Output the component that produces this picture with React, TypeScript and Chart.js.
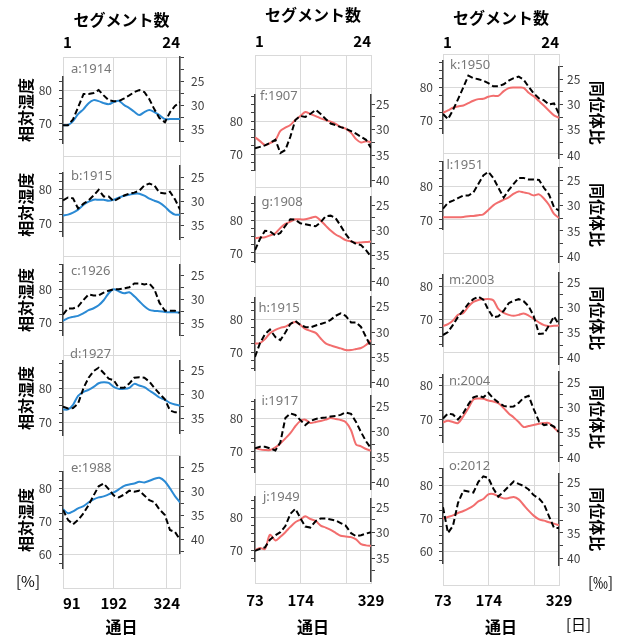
import React, { useEffect, useRef } from 'react';
import { Chart, registerables } from 'chart.js';

Chart.register(...registerables);

const FONT = '"Noto Sans CJK JP", "Noto Sans", sans-serif';

// ---------- data ----------
// 通日 (day of year) of the 24 segments
const segDaysLeft = [91, 101, 111, 121, 132, 142, 152, 162, 172, 182, 192, 202, 213, 223, 233, 243, 253, 263, 273, 283, 294, 304, 314, 324];
const segDaysRight = [73, 84, 95, 106, 118, 129, 140, 151, 162, 173, 184, 195, 207, 218, 229, 240, 251, 262, 273, 285, 296, 307, 318, 329];
const dayLabelsLeft = [91, 192, 324];
const dayLabelsRight = [73, 174, 329];
const segmentLabels = [1, 24];

// relative humidity [%] (solid) and isotope ratio [‰] (dashed)
const rh_a = [69.5, 69.5, 70.7, 72.8, 74.3, 76.1, 77.0, 76.7, 76.1, 75.8, 76.4, 76.8, 75.5, 74.6, 73.5, 72.5, 73.4, 74.0, 73.4, 72.5, 71.3, 71.3, 71.3, 71.3];
const iso_a = [34.1, 34.1, 32.9, 30.4, 27.6, 27.6, 27.4, 26.8, 27.9, 28.9, 29.1, 29.1, 28.5, 27.9, 27.2, 26.8, 27.2, 28.7, 30.8, 32.6, 33.5, 31.4, 30.1, 29.3];
const rh_b = [72.2, 72.5, 73.1, 74.0, 75.5, 76.4, 77.0, 77.0, 77.0, 76.7, 77.0, 77.6, 78.2, 78.5, 78.8, 78.8, 78.2, 77.3, 76.7, 76.1, 74.9, 73.4, 72.5, 72.5];
const iso_b = [29.7, 29.1, 29.3, 31.4, 30.4, 29.7, 28.7, 27.5, 28.9, 28.9, 29.9, 29.3, 28.7, 28.3, 28.1, 27.7, 26.6, 26.2, 26.6, 28.1, 28.3, 27.9, 29.5, 31.6];
const rh_c = [70.5, 71.3, 71.7, 72.0, 72.8, 73.7, 74.3, 75.2, 76.7, 78.8, 80.0, 79.4, 78.8, 79.1, 77.9, 76.4, 74.9, 73.8, 73.5, 73.4, 73.2, 73.1, 73.1, 73.0];
const iso_c = [33.2, 31.9, 31.9, 31.5, 30.1, 29.0, 29.2, 29.2, 28.6, 28.2, 27.9, 27.9, 27.7, 27.5, 26.7, 26.7, 26.9, 26.7, 27.9, 30.7, 32.4, 32.4, 32.4, 32.8];
const rh_d = [73.8, 73.8, 75.2, 77.9, 79.1, 79.7, 80.6, 81.7, 82.0, 81.8, 80.6, 80.0, 80.0, 80.3, 81.5, 81.0, 80.5, 79.5, 78.5, 77.4, 76.7, 75.8, 75.3, 75.0];
const iso_d = [32.5, 32.9, 32.8, 31.9, 28.6, 26.5, 25.1, 24.4, 25.5, 26.7, 27.0, 28.6, 28.6, 27.7, 26.5, 26.4, 26.5, 27.3, 28.6, 29.8, 31.0, 33.3, 33.7, 33.6];
const rh_e = [73.8, 72.5, 73.1, 74.0, 74.7, 75.8, 76.7, 77.3, 77.6, 78.2, 78.8, 79.7, 80.8, 81.2, 81.5, 82.0, 81.8, 82.3, 82.9, 83.2, 82.1, 80.0, 77.7, 75.8];
const iso_e = [33.9, 36.0, 36.9, 36.0, 34.6, 32.9, 30.9, 29.0, 28.4, 29.6, 30.9, 31.3, 30.7, 29.9, 30.1, 29.9, 30.9, 31.9, 32.3, 33.8, 35.0, 38.1, 38.5, 40.1];
const rh_f = [75.1, 73.9, 72.7, 73.3, 74.2, 77.0, 78.0, 78.8, 80.3, 81.5, 82.7, 82.1, 81.5, 80.8, 80.3, 79.8, 79.1, 78.2, 77.7, 76.4, 74.5, 73.5, 73.9, 73.6];
const iso_f = [33.7, 33.4, 33.1, 32.6, 32.0, 34.6, 34.0, 31.4, 28.1, 27.3, 27.5, 26.9, 26.1, 26.9, 27.9, 28.8, 29.1, 29.5, 29.8, 30.3, 30.8, 31.4, 32.0, 33.6];
const rh_g = [74.5, 74.7, 74.8, 75.3, 76.0, 77.6, 78.8, 79.5, 80.2, 80.2, 80.2, 80.6, 81.0, 79.8, 78.3, 76.8, 75.6, 74.8, 73.9, 73.5, 73.1, 73.2, 73.3, 73.5];
const iso_g = [33.9, 31.7, 30.1, 30.2, 31.0, 30.5, 29.1, 27.8, 27.9, 28.6, 28.8, 29.0, 29.2, 28.4, 27.2, 27.1, 27.6, 29.1, 30.7, 32.1, 32.7, 32.9, 33.9, 35.2];
const rh_h = [72.6, 72.7, 73.9, 75.7, 76.7, 77.3, 77.7, 78.5, 79.1, 78.2, 77.0, 76.4, 75.8, 74.1, 72.6, 72.0, 71.5, 71.1, 70.6, 70.6, 70.9, 71.2, 72.1, 73.6];
const iso_h = [34.9, 32.2, 30.4, 29.5, 31.0, 31.6, 30.1, 28.4, 27.8, 28.6, 29.0, 29.1, 28.7, 28.4, 28.1, 27.6, 26.8, 26.3, 26.8, 28.1, 28.1, 29.0, 31.0, 32.9];
const rh_i = [71.0, 70.5, 70.3, 70.3, 71.1, 72.3, 73.8, 75.4, 77.5, 79.1, 79.5, 78.5, 78.8, 79.1, 79.5, 80.0, 79.7, 79.4, 78.8, 76.3, 72.0, 71.4, 70.6, 70.1];
const iso_i = [33.3, 33.0, 33.0, 33.3, 33.7, 32.1, 27.3, 26.4, 26.7, 27.7, 28.7, 27.9, 27.5, 27.3, 27.2, 27.0, 26.9, 26.7, 26.2, 26.5, 28.1, 30.1, 31.9, 33.3];
const rh_j = [70.0, 70.6, 70.3, 74.6, 72.9, 74.0, 75.4, 77.0, 78.4, 79.2, 80.2, 79.4, 78.8, 77.4, 76.8, 76.1, 75.2, 74.3, 74.1, 73.9, 73.2, 71.8, 71.4, 71.3];
const iso_j = [33.6, 33.2, 32.9, 31.4, 30.5, 29.9, 28.7, 26.3, 25.3, 27.1, 28.8, 29.0, 27.7, 27.2, 27.2, 27.4, 27.6, 28.1, 28.6, 30.1, 30.7, 30.5, 30.2, 29.9];
const rh_k = [72.3, 73.0, 73.8, 74.2, 74.5, 75.2, 75.9, 76.4, 76.5, 77.1, 77.4, 77.4, 78.8, 79.7, 79.9, 79.9, 79.8, 78.3, 77.3, 75.8, 74.4, 72.9, 71.5, 70.8];
const iso_k = [31.9, 32.9, 31.1, 29.0, 26.6, 24.3, 24.8, 25.0, 25.3, 25.8, 26.4, 26.4, 26.0, 25.3, 24.8, 24.5, 25.1, 26.5, 27.8, 28.8, 29.2, 30.0, 29.8, 31.9];
const rh_l = [70.8, 70.8, 70.8, 70.8, 70.9, 71.1, 71.2, 71.4, 71.7, 73.0, 74.4, 75.3, 76.1, 76.8, 77.9, 78.6, 78.3, 78.0, 77.4, 77.7, 76.4, 74.5, 71.8, 70.6];
const iso_l = [30.6, 29.4, 29.0, 28.5, 28.0, 28.0, 27.4, 25.7, 24.0, 23.3, 24.5, 26.4, 28.4, 26.9, 25.7, 24.5, 24.5, 24.8, 24.8, 24.9, 26.5, 27.8, 30.3, 31.0];
const rh_m = [68.0, 68.6, 69.7, 71.4, 72.0, 73.9, 75.3, 75.9, 76.1, 76.2, 75.8, 73.2, 72.0, 71.4, 71.1, 71.4, 71.8, 71.2, 70.2, 69.1, 68.3, 68.0, 68.1, 68.2];
const iso_m = [35.5, 34.9, 33.5, 31.9, 30.6, 29.3, 28.4, 27.9, 28.5, 30.5, 32.0, 31.8, 30.7, 29.2, 28.7, 28.4, 28.8, 29.8, 31.7, 35.3, 35.2, 33.6, 31.8, 33.5];
const rh_n = [69.0, 69.5, 69.1, 68.8, 70.9, 73.3, 75.9, 76.2, 76.1, 75.6, 75.3, 74.8, 73.3, 71.7, 70.5, 69.1, 67.6, 67.9, 68.2, 68.6, 68.8, 68.8, 67.4, 66.0];
const iso_n = [32.2, 31.2, 31.4, 32.4, 31.1, 29.4, 28.0, 27.7, 28.0, 27.1, 28.2, 29.0, 29.7, 29.9, 29.8, 29.1, 28.1, 27.7, 30.3, 32.8, 33.5, 33.3, 33.8, 34.9];
const rh_o = [70.0, 70.5, 71.0, 71.7, 72.3, 73.0, 73.9, 75.2, 75.9, 77.3, 77.4, 76.7, 76.1, 76.2, 76.5, 75.8, 74.1, 72.4, 70.9, 69.8, 69.4, 68.9, 68.5, 68.0];
const iso_o = [29.9, 35.0, 33.6, 29.1, 26.6, 26.8, 27.0, 24.9, 23.8, 24.1, 26.2, 27.8, 26.8, 25.8, 24.8, 25.3, 25.7, 26.4, 27.5, 28.2, 29.3, 31.7, 34.0, 34.0];

const panelsLeft = [
  { name: 'a:1914', rh: rh_a, iso: iso_a },
  { name: 'b:1915', rh: rh_b, iso: iso_b },
  { name: 'c:1926', rh: rh_c, iso: iso_c },
  { name: 'd:1927', rh: rh_d, iso: iso_d },
  { name: 'e:1988', rh: rh_e, iso: iso_e },
];
const panelsMiddle = [
  { name: 'f:1907', rh: rh_f, iso: iso_f },
  { name: 'g:1908', rh: rh_g, iso: iso_g },
  { name: 'h:1915', rh: rh_h, iso: iso_h },
  { name: 'i:1917', rh: rh_i, iso: iso_i },
  { name: 'j:1949', rh: rh_j, iso: iso_j },
];
const panelsRight = [
  { name: 'k:1950', rh: rh_k, iso: iso_k },
  { name: 'l:1951', rh: rh_l, iso: iso_l },
  { name: 'm:2003', rh: rh_m, iso: iso_m },
  { name: 'n:2004', rh: rh_n, iso: iso_n },
  { name: 'o:2012', rh: rh_o, iso: iso_o },
];

// ---------- layout (axis segment extents, offsets) ----------
const layoutLeft = [
  { hMin: 64, hMax: 84, rOff: -8.7, vTop: 19.7, vBot: 37.6, rise: 21, dx: 8 },
  { hMin: 66, hMax: 85, rOff: -12, vTop: 22.6, vBot: 37.9, rise: 13, dx: 8 },
  { hMin: 66, hMax: 87.5, rOff: -14, vTop: 22.7, vBot: 37.6, rise: 18, dx: 8 },
  { hMin: 66, hMax: 88.5, rOff: -18.3, vTop: 22.9, vBot: 38.2, rise: 35, dx: 7 },
  { hMin: 56, hMax: 85, rOff: -21.3, vTop: 22.8, vBot: 43, rise: 20, dx: 8 },
];
const layoutMiddle = [
  { hMin: 65, hMax: 88, rOff: -16.7, vTop: 23.2, vBot: 41.3, rise: 25, dx: 5 },
  { hMin: 67, hMax: 87, rOff: -15, vTop: 23.4, vBot: 41.8, rise: 18, dx: 6.5 },
  { hMin: 64.5, hMax: 86.5, rOff: -12.3, vTop: 23.1, vBot: 41.0, rise: 11, dx: 3.5 },
  { hMin: 63.5, hMax: 85.5, rOff: -11.7, vTop: 23.0, vBot: 41.5, rise: 17, dx: 6.5 },
  { hMin: 66.5, hMax: 86, rOff: -9.7, vTop: 23.4, vBot: 39.6, rise: 20, dx: 8 },
];
const layoutRight = [
  { hMin: 66, hMax: 88, rOff: -8, vTop: 22.5, vBot: 40.8, rise: 22, dx: 7 },
  { hMin: 67, hMax: 87.5, rOff: -6.3, vTop: 22.4, vBot: 41.3, rise: 21, dx: 3.5 },
  { hMin: 62, hMax: 83.5, rOff: -4.3, vTop: 23.1, vBot: 41.3, rise: 6, dx: 6 },
  { hMin: 63, hMax: 83.5, rOff: -3.7, vTop: 23.0, vBot: 40.8, rise: 5, dx: 6 },
  { hMin: 56.5, hMax: 85, rOff: -3, vTop: 23.2, vBot: 41.4, rise: 19, dx: 6 },
];

const columns = [
  {
    id: 'L', left: 0, width: 204, axisL: 63, axisR: 24, frameTop: 57, frameBottom: 588, firstGrid: 1,
    pxR: 4.8, color: '#2b8ad4', days: segDaysLeft, xMin: 91, xMax: 324, xGrid: [192, 298], xLabels: dayLabelsLeft,
    botAlign: 'inner',
    titleL: '相対湿度', titleR: '', lPad: 7, rPad: 7, topTitlePad: 10.4, topTickPad: 5.3, botTickPad: 6, botTitlePad: 0.7,
    sideTitlePad: 16, panels: panelsLeft, layout: layoutLeft,
  },
  {
    id: 'M', left: 204, width: 195, axisL: 51, axisR: 28, frameTop: 55, frameBottom: 583, firstGrid: 2,
    pxR: 5.07, color: '#f26e6e', days: segDaysRight, xMin: 73, xMax: 329, xGrid: [174, 276], xLabels: dayLabelsRight,
    botAlign: 'center',
    titleL: '', titleR: '', lPad: 8, rPad: 1, topTitlePad: 5.4, topTickPad: 4.3, botTickPad: 8, botTitlePad: 0.7,
    sideTitlePad: 0, panels: panelsMiddle, layout: layoutMiddle,
  },
  {
    id: 'R', left: 399, width: 224, axisL: 44, axisR: 64, frameTop: 54, frameBottom: 585, firstGrid: 1,
    pxR: 5.05, color: '#f26e6e', days: segDaysRight, xMin: 73, xMax: 329, xGrid: [174, 276], xLabels: dayLabelsRight,
    botAlign: 'center',
    titleL: '', titleR: '同位体比', lPad: 6, rPad: 4, topTitlePad: 8.4, topTickPad: 2.3, botTickPad: 6, botTitlePad: 0.7,
    sideTitlePad: 16.4, panels: panelsRight, layout: layoutRight,
  },
];

const H = 637;

function ticksEvery(min: number, max: number, step: number) {
  const out: { value: number }[] = [];
  let t = Math.ceil(min / step - 1e-9) * step;
  while (t <= max + 1e-9) {
    out.push({ value: Math.round(t * 100) / 100 });
    t += step;
  }
  return out;
}

function buildChart(canvas: HTMLCanvasElement, col: any) {
  const T = col.frameTop;
  const B = H - col.frameBottom;
  const G = (col.frameBottom - col.frameTop) / 16;
  const pxL = G / 10;
  const pxR = col.pxR;
  const tickFont = { family: FONT, size: 12 };
  const boldTick = { family: FONT, size: 15, weight: 'bold' as const };
  const titleFont = { family: FONT, size: 16, weight: 'bold' as const };

  const scales: any = {};
  scales.x = {
    type: 'linear', axis: 'x', position: 'bottom', min: col.xMin, max: col.xMax,
    afterBuildTicks: (s: any) => { s.ticks = [col.xMin, ...col.xGrid, col.xMax].map((v: number) => ({ value: v })); },
    ticks: {
      autoSkip: false, maxRotation: 0, minRotation: 0, align: col.botAlign, padding: col.botTickPad, font: boldTick, color: '#000',
      callback: (v: any) => (col.xLabels.includes(v) ? String(v) : ''),
    },
    grid: { color: '#d9d9d9', lineWidth: 1, drawTicks: false },
    border: { display: true, color: '#d9d9d9', width: 1 },
    title: { display: true, text: '通日', font: titleFont, color: '#000', padding: { top: 0, bottom: col.botTitlePad } },
    afterFit: (s: any) => { s.height = B; },
  };
  scales.xt = {
    type: 'linear', axis: 'x', position: 'top', min: 1, max: 24,
    afterBuildTicks: (s: any) => { s.ticks = segmentLabels.map((v) => ({ value: v })); },
    ticks: { autoSkip: false, maxRotation: 0, minRotation: 0, align: 'inner', padding: col.topTickPad, font: boldTick, color: '#000' },
    grid: { display: false, drawTicks: false },
    border: { display: false },
    title: { display: true, text: 'セグメント数', font: titleFont, color: '#000', padding: { top: col.topTitlePad, bottom: 0 } },
    afterFit: (s: any) => { s.height = T; },
  };
  scales.g = {
    type: 'linear', axis: 'y', position: 'left', weight: 1000, min: 0, max: 16,
    ticks: { display: false, stepSize: 1, autoSkip: false },
    grid: { color: '#d9d9d9', lineWidth: 1, drawTicks: false },
    border: { display: false },
    afterFit: (s: any) => { s.width = 0; },
  };

  // stacked axis segments: humidity on the left, isotope ratio on the right
  const leftItems: any[] = [];
  const rightItems: any[] = [];
  let yL = col.frameTop;
  let yR = col.frameTop;
  col.layout.forEach((p: any, i: number) => {
    const y80 = col.frameTop + (col.firstGrid + 3 * i) * G;
    const top = Math.max(yL, y80 - (p.hMax - 80) * pxL);
    const bot = Math.min(col.frameBottom, y80 + (80 - p.hMin) * pxL);
    if (top - yL > 0.01) leftItems.push({ spacer: true, px: top - yL });
    leftItems.push({ id: 'h' + i, px: bot - top, min: 80 - (bot - y80) / pxL, max: 80 + (y80 - top) / pxL });
    yL = bot;

    const y25 = y80 + p.rOff;
    const rtop = Math.max(yR, y25 + (p.vTop - 25) * pxR);
    const rbot = Math.min(col.frameBottom, y25 + (p.vBot - 25) * pxR);
    if (rtop - yR > 0.01) rightItems.push({ spacer: true, px: rtop - yR });
    rightItems.push({ id: 'v' + i, px: rbot - rtop, min: 25 + (rtop - y25) / pxR, max: 25 + (rbot - y25) / pxR });
    yR = rbot;
  });
  if (col.frameBottom - yL > 0.01) leftItems.push({ spacer: true, px: col.frameBottom - yL });
  if (col.frameBottom - yR > 0.01) rightItems.push({ spacer: true, px: col.frameBottom - yR });

  leftItems.forEach((it, k) => {
    const id = it.spacer ? 'sl' + k : it.id;
    if (it.spacer) {
      scales[id] = {
        type: 'linear', axis: 'y', position: 'left', stack: 'L', stackWeight: it.px, weight: 500 - k, min: 0, max: 1,
        ticks: { display: false }, grid: { display: false }, border: { display: false },
        afterFit: (s: any) => { s.width = col.axisL; },
      };
    } else {
      scales[id] = {
        type: 'linear', axis: 'y', position: 'left', stack: 'L', stackWeight: it.px, weight: 500 - k, min: it.min, max: it.max,
        afterBuildTicks: (s: any) => { s.ticks = ticksEvery(it.min, it.max, 2.5); },
        ticks: {
          autoSkip: false, padding: col.lPad, font: tickFont, color: '#404040',
          callback: (v: any) => (Math.abs(v / 10 - Math.round(v / 10)) < 1e-6 ? String(v) : ''),
        },
        grid: { display: true, drawOnChartArea: false, drawTicks: true, tickLength: 4, color: '#404040', lineWidth: 1 },
        border: { display: true, color: '#404040', width: 1.5 },
        title: col.titleL
          ? { display: true, text: col.titleL, font: titleFont, color: '#000', padding: { top: col.sideTitlePad, bottom: 0 } }
          : { display: false },
        afterFit: (s: any) => { s.width = col.axisL; },
      };
    }
  });
  rightItems.forEach((it, k) => {
    const id = it.spacer ? 'sr' + k : it.id;
    if (it.spacer) {
      scales[id] = {
        type: 'linear', axis: 'y', position: 'right', stack: 'R', stackWeight: it.px, weight: 10 + k, min: 0, max: 1,
        ticks: { display: false }, grid: { display: false }, border: { display: false },
        afterFit: (s: any) => { s.width = col.axisR; },
      };
    } else {
      scales[id] = {
        type: 'linear', axis: 'y', position: 'right', stack: 'R', stackWeight: it.px, weight: 10 + k, min: it.min, max: it.max,
        reverse: true,
        afterBuildTicks: (s: any) => { s.ticks = ticksEvery(it.min, it.max, 2.5); },
        ticks: {
          autoSkip: false, padding: col.rPad, font: tickFont, color: '#404040',
          callback: (v: any) => (Math.abs(v / 5 - Math.round(v / 5)) < 1e-6 && v >= 25 && v <= 40 ? String(v) : ''),
        },
        grid: { display: true, drawOnChartArea: false, drawTicks: true, tickLength: 4, color: '#404040', lineWidth: 1 },
        border: { display: true, color: '#404040', width: 1.5 },
        title: col.titleR
          ? { display: true, text: col.titleR, font: titleFont, color: '#000', padding: { top: col.sideTitlePad, bottom: 0 } }
          : { display: false },
        afterFit: (s: any) => { s.width = col.axisR; },
      };
    }
  });

  const datasets: any[] = [];
  col.panels.forEach((p: any, i: number) => {
    datasets.push({
      label: p.name + ' iso',
      data: col.days.map((d: number, j: number) => ({ x: d, y: p.iso[j] })),
      xAxisID: 'x', yAxisID: 'v' + i,
      borderColor: '#000', borderWidth: 2, borderDash: [6, 3], pointRadius: 0, tension: 0, fill: false,
    });
  });
  col.panels.forEach((p: any, i: number) => {
    datasets.push({
      label: p.name + ' rh',
      data: col.days.map((d: number, j: number) => ({ x: d, y: p.rh[j] })),
      xAxisID: 'x', yAxisID: 'h' + i,
      borderColor: col.color, borderWidth: 2, pointRadius: 0, tension: 0.3, fill: false,
    });
  });

  const labelPlugin = {
    id: 'panelLabels' + col.id,
    beforeDatasetsDraw(chart: any) {
      const ctx = chart.ctx;
      const area = chart.chartArea;
      ctx.save();
      ctx.font = '13px "Noto Sans", "Noto Sans CJK JP", sans-serif';
      ctx.fillStyle = '#777777';
      ctx.textAlign = 'left';
      ctx.textBaseline = 'middle';
      col.panels.forEach((p: any, i: number) => {
        const lay = col.layout[i];
        const y = chart.scales['h' + i].getPixelForValue(80) - lay.rise;
        ctx.fillText(p.name, area.left + lay.dx, y);
      });
      ctx.restore();
    },
  };

  return new Chart(canvas, {
    type: 'line',
    data: { datasets },
    options: {
      responsive: false,
      animation: false,
      events: [],
      layout: { padding: 0 },
      plugins: { legend: { display: false }, tooltip: { enabled: false }, title: { display: false } },
      scales,
    } as any,
    plugins: [labelPlugin],
  });
}

function Column({ col }: { col: any }) {
  const ref = useRef<HTMLCanvasElement>(null);
  useEffect(() => {
    const chart = buildChart(ref.current as HTMLCanvasElement, col);
    return () => chart.destroy();
  }, []);
  return (
    <canvas
      ref={ref}
      width={col.width}
      height={H}
      style={{ position: 'absolute', left: col.left, top: 0, width: col.width, height: H, display: 'block' }}
    />
  );
}

const unitStyle: React.CSSProperties = {
  position: 'absolute', fontFamily: FONT, fontSize: 15, lineHeight: '16px', color: '#000', whiteSpace: 'nowrap',
};

export default function App() {
  return (
    <div style={{ position: 'absolute', left: 0, top: 0, width: 623, height: H, background: '#fff', overflow: 'hidden' }}>
      {columns.map((c) => (
        <Column key={c.id} col={c} />
      ))}
      <div style={{ ...unitStyle, left: 16, top: 573 }}>[%]</div>
      <div style={{ ...unitStyle, left: 588, top: 574 }}>[‰]</div>
      <div style={{ ...unitStyle, left: 566, top: 616 }}>[日]</div>
    </div>
  );
}
